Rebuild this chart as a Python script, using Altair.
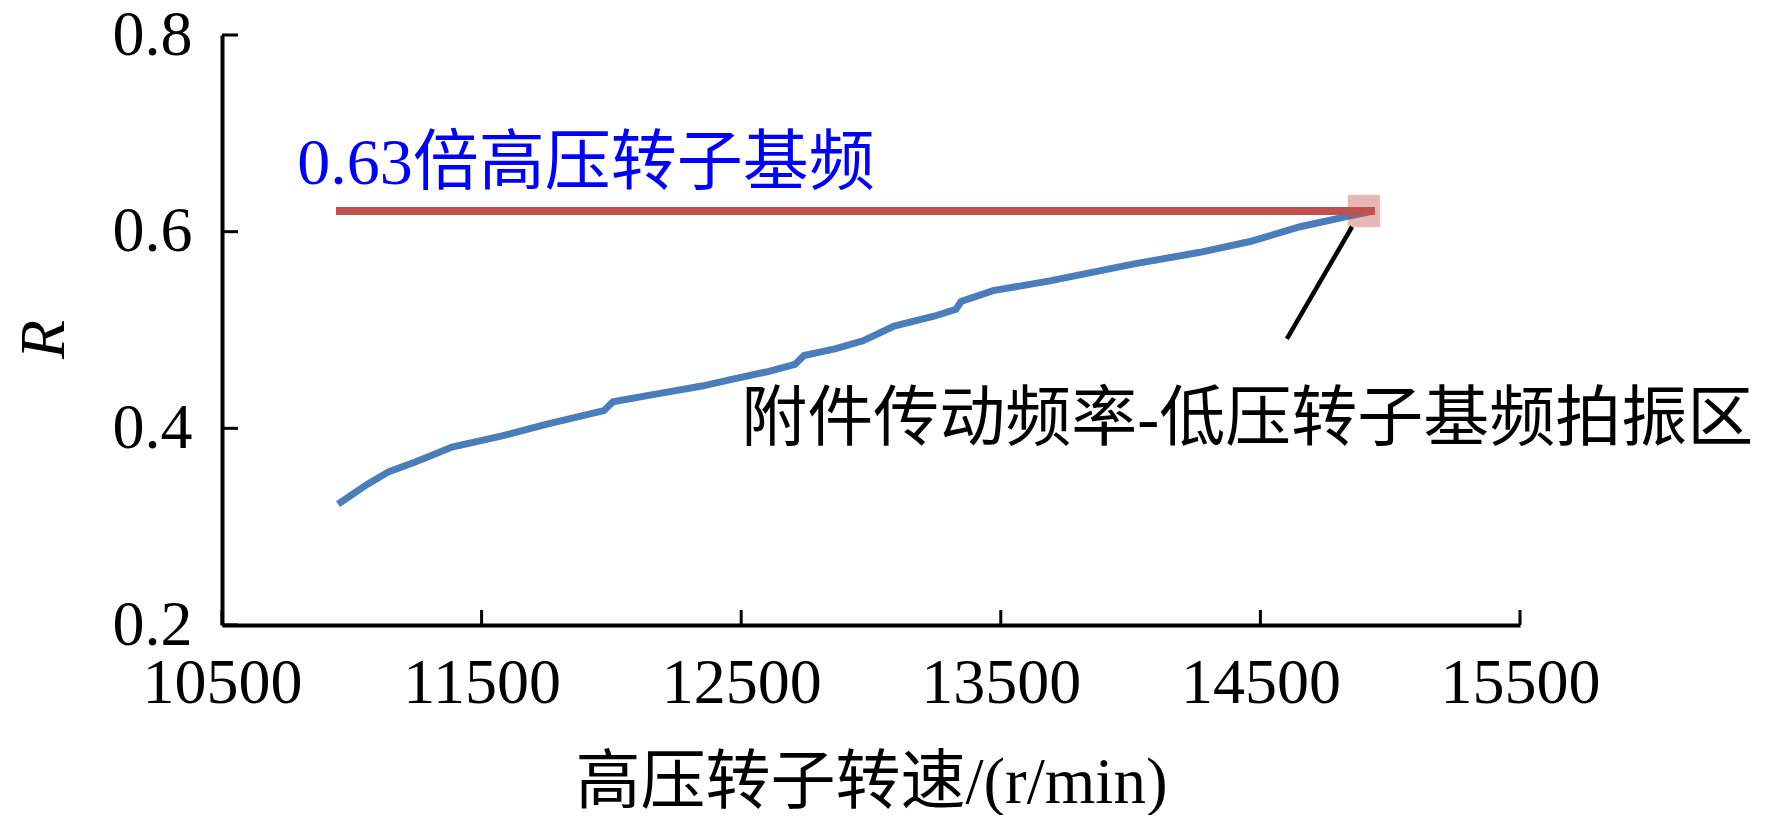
import altair as alt
import pandas as pd

# ---- data ----
speed = [10947, 11059, 11143, 11247, 11386, 11575, 11748, 11971, 12006, 12176,
         12349, 12468, 12607, 12707, 12742, 12865, 12969, 13089, 13243, 13327,
         13347, 13470, 13689, 14009, 14267, 14460, 14653, 14845, 14934]
ratio = [0.323, 0.343, 0.356, 0.366, 0.381, 0.392, 0.404, 0.418, 0.427, 0.435,
         0.443, 0.450, 0.458, 0.465, 0.474, 0.481, 0.489, 0.504, 0.514, 0.521,
         0.529, 0.540, 0.550, 0.567, 0.579, 0.590, 0.605, 0.616, 0.621]

ref_x = [10939, 14941]
ref_y = [0.621, 0.621]
marker_x = [14899]
marker_y = [0.621]
leader_x = [14853, 14602]
leader_y = [0.605, 0.491]

x_ticks = [10500, 11500, 12500, 13500, 14500, 15500]
y_ticks = [0.2, 0.4, 0.6, 0.8]

blue_label = ["0.63倍高压转子基频"]
blue_label_pos = [10790, 0.669]
black_label = ["附件传动频率-低压转子基频拍振区"]
black_label_pos = [12500, 0.408]

x_title = "高压转子转速/(r/min)"
y_title = "R"

FONT = "Liberation Serif, Noto Sans CJK SC"

xs = alt.Scale(domain=[10500, 15500], nice=False, zero=False)
ys = alt.Scale(domain=[0.2, 0.8], nice=False, zero=False)

curve_df = pd.DataFrame({"x": speed, "y": ratio})
ref_df = pd.DataFrame({"x": ref_x, "y": ref_y})
marker_df = pd.DataFrame({"x": marker_x, "y": marker_y})
leader_df = pd.DataFrame({"x": leader_x, "y": leader_y, "o": [0, 1]})
xt_df = pd.DataFrame({"x": x_ticks})
yt_df = pd.DataFrame({"y": y_ticks})
blue_df = pd.DataFrame({"x": [blue_label_pos[0]], "y": [blue_label_pos[1]], "t": blue_label})
black_df = pd.DataFrame({"x": [black_label_pos[0]], "y": [black_label_pos[1]], "t": black_label})

x_axis = alt.Axis(
    values=x_ticks, format="d", title=x_title, ticks=False, grid=False,
    domainColor="black", domainWidth=4,
    labelFont="Liberation Serif", labelFontSize=64, labelColor="black",
    labelPadding=26, labelFlush=False, labelOverlap=False,
    titleFont=FONT, titleFontSize=65, titleFontWeight="normal", titleColor="black",
    titleBaseline="middle", titleY=157,
)
y_axis = alt.Axis(
    values=y_ticks, format=".1f", title=y_title, ticks=False, grid=False,
    domainColor="black", domainWidth=4,
    labelFont="Liberation Serif", labelFontSize=64, labelColor="black",
    labelPadding=30, labelFlush=False, labelOverlap=False,
    titleFont="Liberation Serif", titleFontSize=64, titleFontStyle="italic",
    titleFontWeight="normal", titleColor="black",
    titleAngle=270, titleAlign="center", titleBaseline="middle",
    titleX=-178, titleY=304,
)


def X():
    return alt.X("x:Q", scale=xs, axis=x_axis)


def Y():
    return alt.Y("y:Q", scale=ys, axis=y_axis)


curve = alt.Chart(curve_df).mark_line(color="#4A7EBB", strokeWidth=7).encode(x=X(), y=Y())

ref_line = alt.Chart(ref_df).mark_line(color="#C0504D", strokeWidth=8).encode(x=X(), y=Y())

marker = alt.Chart(marker_df).mark_point(
    shape="square", filled=True, size=1000, color="#C0504D", opacity=0.4,
    stroke="#C0504D", strokeOpacity=0.5, strokeWidth=1.5,
).encode(x=X(), y=Y())

leader = alt.Chart(leader_df).mark_line(color="black", strokeWidth=4.5).encode(
    x=X(), y=Y(), order="o:O",
)

xticks = alt.Chart(xt_df).mark_rule(color="black", strokeWidth=3).encode(
    x=X(), y=alt.value(590), y2=alt.value(575),
)
yticks = alt.Chart(yt_df).mark_rule(color="black", strokeWidth=3).encode(
    y=Y(), x=alt.value(0), x2=alt.value(16),
)

blue_text = alt.Chart(blue_df).mark_text(
    font=FONT, fontSize=66, color="#0000FF", align="left", baseline="middle",
).encode(x=X(), y=Y(), text="t:N")

black_text = alt.Chart(black_df).mark_text(
    font=FONT, fontSize=66, color="black", align="left", baseline="middle",
).encode(x=X(), y=Y(), text="t:N")

chart = alt.layer(
    curve, ref_line, marker, leader, xticks, yticks, blue_text, black_text
).properties(
    width=1298, height=590,
    padding={"left": 214, "top": 27, "right": 242, "bottom": 190},
    autosize=alt.AutoSizeParams(type="none"),
    background="white",
).configure_view(stroke="transparent")

chart.save("out.html", embed_options={"renderer": "svg", "actions": False})
